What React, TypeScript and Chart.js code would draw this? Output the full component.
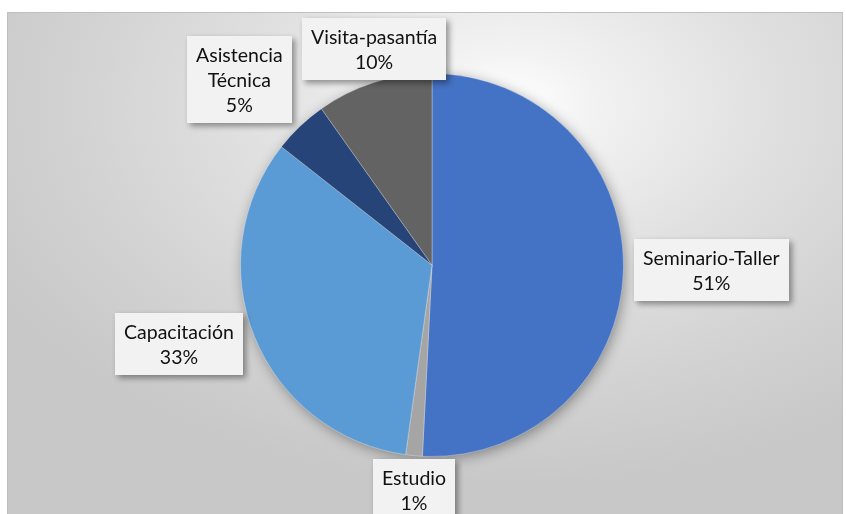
import React, { useEffect, useRef } from "react";
import { Chart, registerables } from "chart.js";

Chart.register(...registerables);

// ---- data ----
const categories = ["Seminario-Taller", "Estudio", "Capacitación", "Asistencia Técnica", "Visita-pasantía"];
const labelLines = [["Seminario-Taller"], ["Estudio"], ["Capacitación"], ["Asistencia", "Técnica"], ["Visita-pasantía"]];
const shares = [50.8, 1.4, 33.4, 4.6, 9.8];
const sliceColors = ["#4472C4", "#A5A5A5", "#5B9BD5", "#264478", "#636363"];

const FONT = "19.5px Lato, 'Open Sans', sans-serif";

const pieShadow = {
  id: "pieShadow",
  beforeDatasetsDraw(chart: any) {
    const arc = chart.getDatasetMeta(0).data[0];
    if (!arc) return;
    const { x, y, outerRadius } = arc.getProps(["x", "y", "outerRadius"], true);
    const ctx = chart.ctx;
    ctx.save();
    ctx.shadowColor = "rgba(0,0,0,0.4)";
    ctx.shadowBlur = 14;
    ctx.shadowOffsetX = 2;
    ctx.shadowOffsetY = 3;
    ctx.beginPath();
    ctx.arc(x, y, outerRadius - 1, 0, Math.PI * 2);
    ctx.fillStyle = "#777";
    ctx.fill();
    ctx.restore();
  },
};

const boxLabels = {
  id: "boxLabels",
  afterDatasetsDraw(chart: any) {
    const ctx = chart.ctx;
    const meta = chart.getDatasetMeta(0);
    const values: number[] = chart.data.datasets[0].data;
    const total = values.reduce((a, b) => a + b, 0);
    const lineH = 25;
    const padX = 9;
    const padY = 6;
    const f = (t: number) => Math.min(1, Math.max(0, (Math.abs(t) - 0.4) / 0.3));
    ctx.save();
    ctx.font = FONT;
    meta.data.forEach((arc: any, i: number) => {
      const { x, y, startAngle, endAngle, outerRadius } = arc.getProps(
        ["x", "y", "startAngle", "endAngle", "outerRadius"],
        true
      );
      const mid = (startAngle + endAngle) / 2;
      const dx = Math.cos(mid);
      const dy = Math.sin(mid);
      const ax = x + outerRadius * dx;
      const ay = y + outerRadius * dy;
      const lines = [...labelLines[i], Math.round((values[i] / total) * 100) + "%"];
      const tw = Math.max(...lines.map((l) => ctx.measureText(l).width));
      const w = tw + 2 * padX;
      const h = lines.length * lineH + 2 * padY;
      const cx = ax + Math.sign(dx) * f(dx) * (w / 2 + 11);
      const cy = ay + Math.sign(dy) * f(dy) * (h / 2 + 3) + (1 - f(dy)) * dy * 20;
      const bx = Math.round(cx - w / 2);
      const by = Math.round(cy - h / 2);
      ctx.save();
      ctx.shadowColor = "rgba(0,0,0,0.4)";
      ctx.shadowBlur = 6;
      ctx.shadowOffsetX = 3;
      ctx.shadowOffsetY = 3;
      ctx.fillStyle = "#f2f2f2";
      ctx.fillRect(bx, by, Math.round(w), Math.round(h));
      ctx.restore();
      ctx.fillStyle = "#111111";
      ctx.textAlign = "center";
      ctx.textBaseline = "middle";
      lines.forEach((l, k) => {
        ctx.fillText(l, bx + w / 2, by + padY + lineH * (k + 0.5) + 1);
      });
    });
    ctx.restore();
  },
};

export default function App() {
  const ref = useRef<HTMLCanvasElement>(null);
  useEffect(() => {
    if (!ref.current) return;
    const chart = new Chart(ref.current, {
      type: "pie",
      data: {
        labels: categories,
        datasets: [
          {
            data: shares,
            backgroundColor: sliceColors,
            borderColor: "rgba(255,255,255,0.3)",
            borderWidth: 1,
          },
        ],
      },
      options: {
        responsive: false,
        animation: false,
        devicePixelRatio: 1,
        layout: { padding: { left: 232, right: 218, top: 60, bottom: 64 } },
        plugins: {
          legend: { display: false },
          tooltip: { enabled: false },
        },
      },
      plugins: [pieShadow, boxLabels],
    });
    return () => chart.destroy();
  }, []);

  return (
    <div
      style={{
        position: "fixed",
        left: 0,
        top: 0,
        width: 846,
        height: 514,
        overflow: "hidden",
        background: "#ffffff",
      }}
    >
      <div
        style={{
          position: "absolute",
          left: 7,
          top: 12,
          width: 836,
          height: 510,
          boxSizing: "border-box",
          border: "1px solid #bfbfbf",
          background:
            "radial-gradient(ellipse 70% 75% at 60% 18%, #ffffff 0%, #f2f2f2 15%, #e0e0e0 45%, #d2d2d2 75%, #c8c8c8 100%)",
        }}
      >
        <canvas ref={ref} width={834} height={508} style={{ display: "block" }} />
      </div>
    </div>
  );
}
